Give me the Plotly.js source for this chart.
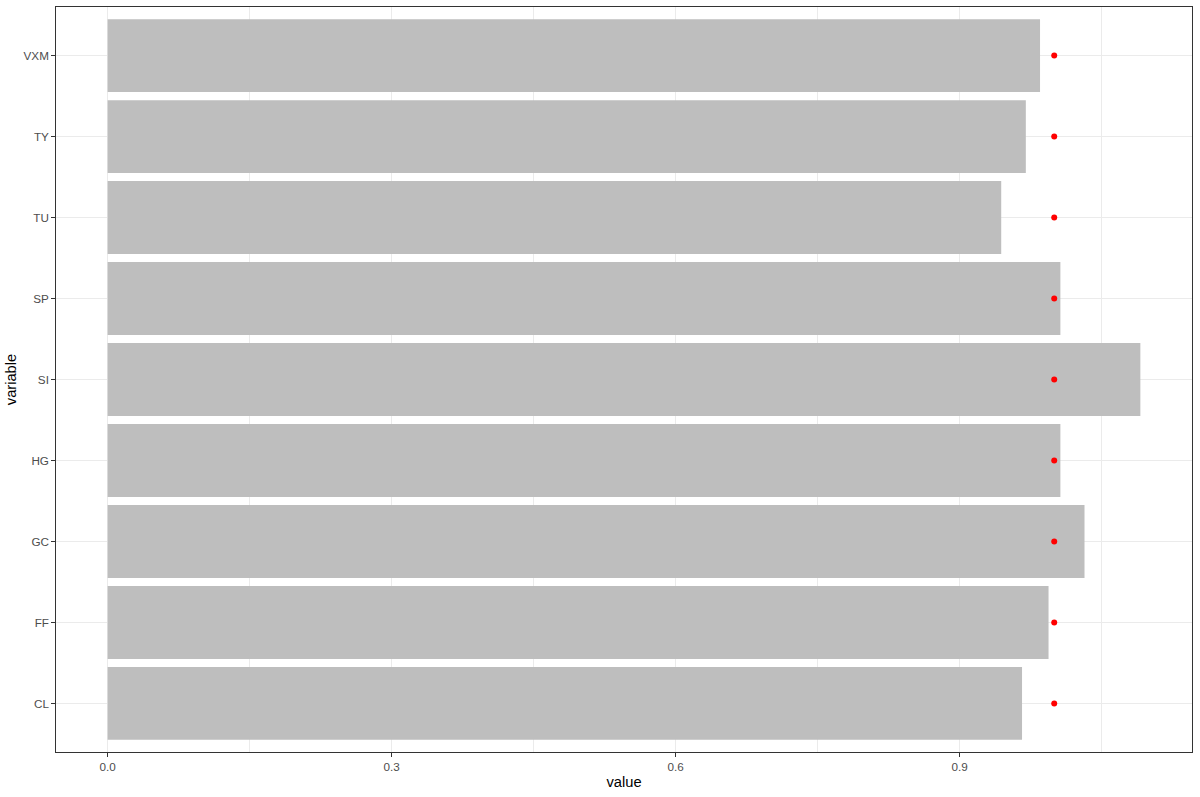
<!DOCTYPE html>
<html>
<head>
<meta charset="utf-8">
<script src="https://cdn.plot.ly/plotly-3.0.1.min.js"></script>
<style>html,body{margin:0;padding:0;background:#fff;}</style>
</head>
<body>
<div id="chart" style="width:1200px;height:797px;"></div>
<script>
const categories = ["CL", "FF", "GC", "HG", "SI", "SP", "TU", "TY", "VXM"];
const barValues = [0.966, 0.994, 1.032, 1.0065, 1.091, 1.0065, 0.944, 0.970, 0.985];
const pointValues = [1.0, 1.0, 1.0, 1.0, 1.0, 1.0, 1.0, 1.0, 1.0];
const xTickVals = [0.0, 0.3, 0.6, 0.9];
const xTickText = ["0.0", "0.3", "0.6", "0.9"];

const maxV = Math.max(...barValues);
const traces = [
  {
    type: "bar",
    orientation: "h",
    y: categories,
    x: barValues,
    width: 0.9,
    marker: {color: "#BEBEBE", line: {width: 0}},
    hoverinfo: "x+y"
  },
  {
    type: "scatter",
    mode: "markers",
    y: categories,
    x: pointValues,
    marker: {color: "#FF0000", size: 6},
    hoverinfo: "x+y"
  }
];

const layout = {
  width: 1200,
  height: 797,
  margin: {l: 56, r: 8, t: 7, b: 45},
  paper_bgcolor: "#FFFFFF",
  plot_bgcolor: "#FFFFFF",
  showlegend: false,
  font: {family: "Liberation Sans, Arial, sans-serif", color: "#4D4D4D", size: 11.7},
  xaxis: {
    range: [-0.05 * maxV, 1.05 * maxV],
    tickvals: xTickVals,
    ticktext: xTickText,
    showgrid: true,
    gridcolor: "#EBEBEB",
    gridwidth: 1.1,
    minor: {tickvals: [0.15, 0.45, 0.75, 1.05], showgrid: true, gridcolor: "#EBEBEB", gridwidth: 0.8, ticks: ""},
    zeroline: false,
    showline: true,
    mirror: true,
    linecolor: "#333333",
    linewidth: 1.1,
    ticks: "outside",
    ticklen: 3.7,
    tickcolor: "#333333",
    tickwidth: 1.1,
    tickfont: {color: "#4D4D4D", size: 11.7},
    title: {text: "value", font: {color: "#000000", size: 14.7}, standoff: 4}
  },
  yaxis: {
    type: "category",
    categoryorder: "array",
    categoryarray: categories,
    range: [-0.6, categories.length - 1 + 0.6],
    showgrid: true,
    gridcolor: "#EBEBEB",
    gridwidth: 1.1,
    zeroline: false,
    showline: true,
    mirror: true,
    linecolor: "#333333",
    linewidth: 1.1,
    ticks: "outside",
    ticklen: 3.7,
    tickcolor: "#333333",
    tickwidth: 1.1,
    tickfont: {color: "#4D4D4D", size: 11.7},
    title: {text: "variable", font: {color: "#000000", size: 14.7}, standoff: 3}
  }
};

Plotly.newPlot("chart", traces, layout, {displayModeBar: false, staticPlot: false});
</script>
</body>
</html>
